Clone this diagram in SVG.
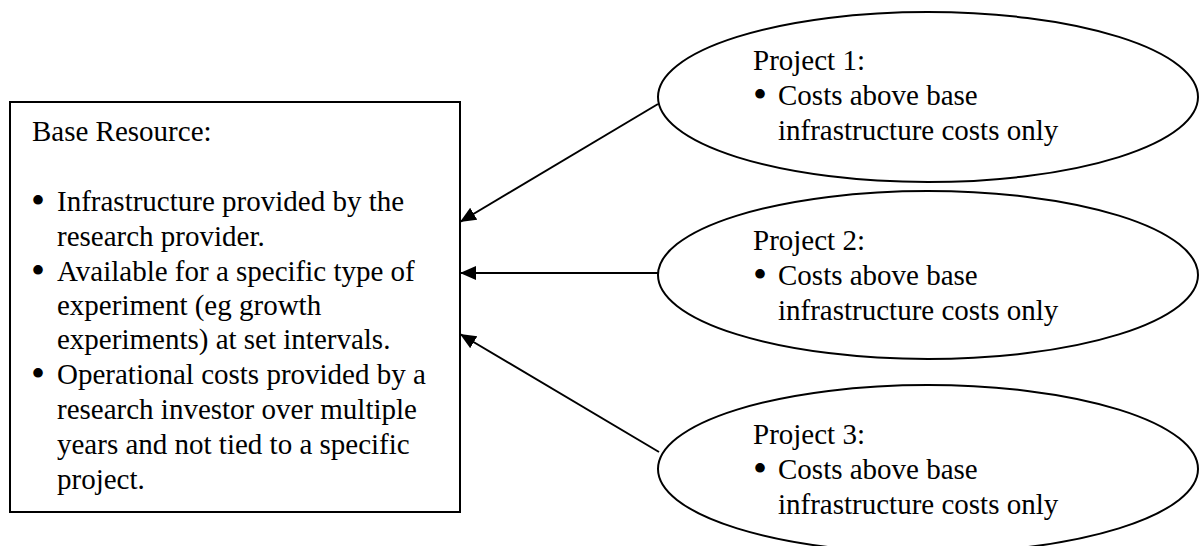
<svg xmlns="http://www.w3.org/2000/svg" width="1200" height="546" viewBox="0 0 1200 546">
  <style>
    .shape { fill: #ffffff; stroke: #000000; stroke-width: 2; }
    .txt { font-family: "Liberation Serif", "Times New Roman", serif; font-size: 29px; fill: #000000; }
    .bul { font-family: "Liberation Serif", "Times New Roman", serif; font-size: 40px; fill: #000000; }
    .conn { stroke: #000000; stroke-width: 2; fill: none; marker-end: url(#arrow); }
  </style>
  <defs>
    <marker id="arrow" markerUnits="userSpaceOnUse" markerWidth="18" markerHeight="16" refX="16" refY="7" orient="auto">
      <path d="M0,0 L16,7 L0,14 Z" fill="#000000"/>
    </marker>
  </defs>

  <rect width="1200" height="546" fill="#ffffff"/>

  <!-- Base resource box -->
  <g id="base-resource">
    <rect class="shape" x="10" y="102" width="450" height="410"/>
    <text class="txt" x="32" y="141">Base Resource:</text>
    <text class="bul" x="31" y="214">•</text>
    <text class="txt" x="57" y="211">Infrastructure provided by the</text>
    <text class="txt" x="57" y="246">research provider.</text>
    <text class="bul" x="31" y="284">•</text>
    <text class="txt" x="57" y="281">Available for a specific type of</text>
    <text class="txt" x="57" y="315">experiment (eg growth</text>
    <text class="txt" x="57" y="349">experiments) at set intervals.</text>
    <text class="bul" x="31" y="387">•</text>
    <text class="txt" x="57" y="384">Operational costs provided by a</text>
    <text class="txt" x="57" y="419">research investor over multiple</text>
    <text class="txt" x="57" y="454">years and not tied to a specific</text>
    <text class="txt" x="57" y="489">project.</text>
  </g>

  <!-- Project 1 -->
  <g id="project-1">
    <ellipse class="shape" cx="928" cy="97" rx="270" ry="85"/>
    <text class="txt" x="753" y="70">Project 1:</text>
    <text class="bul" x="753" y="108">•</text>
    <text class="txt" x="778" y="105">Costs above base</text>
    <text class="txt" x="778" y="140">infrastructure costs only</text>
  </g>

  <!-- Project 2 -->
  <g id="project-2">
    <ellipse class="shape" cx="928" cy="275" rx="270" ry="84"/>
    <text class="txt" x="753" y="250">Project 2:</text>
    <text class="bul" x="753" y="288">•</text>
    <text class="txt" x="778" y="285">Costs above base</text>
    <text class="txt" x="778" y="320">infrastructure costs only</text>
  </g>

  <!-- Project 3 -->
  <g id="project-3">
    <ellipse class="shape" cx="928" cy="469" rx="270" ry="84"/>
    <text class="txt" x="753" y="444">Project 3:</text>
    <text class="bul" x="753" y="482">•</text>
    <text class="txt" x="778" y="479">Costs above base</text>
    <text class="txt" x="778" y="514">infrastructure costs only</text>
  </g>

  <!-- Connectors: each project feeds the base resource -->
  <g id="connectors">
    <line class="conn" x1="658" y1="104" x2="460" y2="222"/>
    <line class="conn" x1="658" y1="273" x2="460" y2="273"/>
    <line class="conn" x1="659" y1="452" x2="460" y2="334"/>
  </g>
</svg>
